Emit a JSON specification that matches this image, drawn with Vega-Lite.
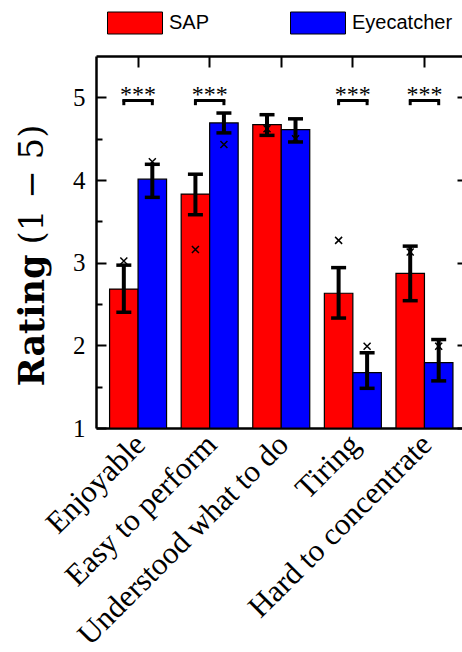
{
  "$schema": "https://vega.github.io/schema/vega-lite/v6.json",
  "width": 366,
  "height": 372,
  "autosize": {"type": "none"},
  "padding": {"left": 96, "top": 56, "right": 0, "bottom": 224},
  "background": "white",
  "config": {
    "view": {"stroke": null},
    "axis": {"grid": false, "domainColor": "black", "tickColor": "black", "labelColor": "black", "titleColor": "black"}
  },
  "datasets": {
    "ratings": [
      {"cat": "Enjoyable", "group": "SAP", "mean": 2.68, "lo": 2.40, "hi": 2.97, "marker": 3.02, "sig": "***"},
      {"cat": "Enjoyable", "group": "Eyecatcher", "mean": 4.01, "lo": 3.79, "hi": 4.19, "marker": 4.22, "sig": "***"},
      {"cat": "Easy to perform", "group": "SAP", "mean": 3.83, "lo": 3.58, "hi": 4.07, "marker": 3.16, "sig": "***"},
      {"cat": "Easy to perform", "group": "Eyecatcher", "mean": 4.69, "lo": 4.57, "hi": 4.81, "marker": 4.43, "sig": "***"},
      {"cat": "Understood what to do", "group": "SAP", "mean": 4.67, "lo": 4.54, "hi": 4.79, "marker": 4.62, "sig": ""},
      {"cat": "Understood what to do", "group": "Eyecatcher", "mean": 4.61, "lo": 4.46, "hi": 4.74, "marker": 4.50, "sig": ""},
      {"cat": "Tiring", "group": "SAP", "mean": 2.63, "lo": 2.33, "hi": 2.94, "marker": 3.27, "sig": "***"},
      {"cat": "Tiring", "group": "Eyecatcher", "mean": 1.67, "lo": 1.48, "hi": 1.91, "marker": 1.99, "sig": "***"},
      {"cat": "Hard to concentrate", "group": "SAP", "mean": 2.87, "lo": 2.54, "hi": 3.20, "marker": 3.13, "sig": "***"},
      {"cat": "Hard to concentrate", "group": "Eyecatcher", "mean": 1.79, "lo": 1.57, "hi": 2.07, "marker": 1.99, "sig": "***"}
    ]
  },
  "data": {"name": "ratings"},
  "resolve": {"axis": {"x": "independent", "y": "independent"}},
  "layer": [
    {
      "mark": {"type": "bar", "stroke": "black", "strokeWidth": 1.2, "opacity": 1},
      "encoding": {
        "x": {
          "field": "cat", "type": "nominal",
          "sort": ["Enjoyable", "Easy to perform", "Understood what to do", "Tiring", "Hard to concentrate"],
          "scale": {"paddingInner": 0.204, "paddingOuter": 0.158, "align": 0.6},
          "axis": {
            "orient": "bottom", "title": null, "labelAngle": 315, "labelLimit": 0,
            "labelFont": "Liberation Serif", "labelFontSize": 31,
            "tickSize": -11, "tickWidth": 2, "labelPadding": 12, "labelOffset": -8,
            "domain": true, "domainWidth": 2.5
          }
        },
        "xOffset": {"field": "group", "type": "nominal", "sort": ["SAP", "Eyecatcher"], "scale": {"paddingInner": 0, "paddingOuter": 0}},
        "y": {
          "field": "mean", "type": "quantitative",
          "scale": {"domain": [1, 5.5], "nice": false, "zero": false},
          "axis": {
            "orient": "left",
            "values": [1, 1.5, 2, 2.5, 3, 3.5, 4, 4.5, 5],
            "labelExpr": "datum.value % 1 === 0 ? format(datum.value, 'd') : ''",
            "tickSize": {"condition": {"test": "datum.value % 1 === 0", "value": -10}, "value": -6},
            "tickWidth": 2,
            "labelFont": "Liberation Serif", "labelFontSize": 25, "labelPadding": 21,
            "domain": true, "domainWidth": 2.5,
            "title": "Rating", "titleFont": "DejaVu Serif", "titleFontWeight": "bold", "titleFontSize": 35,
            "titleAngle": 270, "titleX": -64, "titleY": 264, "titleAlign": "center", "titleBaseline": "middle"
          }
        },
        "y2": {"datum": 1},
        "color": {
          "field": "group", "type": "nominal",
          "scale": {"domain": ["SAP", "Eyecatcher"], "range": ["#ff0000", "#0000ff"]},
          "legend": {
            "orient": "none", "legendX": 11, "legendY": -61, "direction": "horizontal", "title": null,
            "symbolType": "M-1,-0.4H1V0.4H-1Z", "symbolSize": 3025,
            "symbolStrokeColor": "black", "symbolStrokeWidth": 1, "symbolOpacity": 1,
            "labelFont": "Liberation Sans", "labelFontSize": 20, "labelOffset": 6, "labelColor": "black",
            "columnPadding": 78
          }
        }
      }
    },
    {
      "mark": {"type": "rule", "strokeWidth": 4, "color": "black"},
      "encoding": {
        "x": {"field": "cat", "type": "nominal", "sort": ["Enjoyable", "Easy to perform", "Understood what to do", "Tiring", "Hard to concentrate"], "axis": null},
        "xOffset": {"field": "group", "type": "nominal", "sort": ["SAP", "Eyecatcher"]},
        "y": {
          "field": "lo", "type": "quantitative",
          "axis": {
            "orient": "left", "labels": false, "ticks": false, "domain": false, "values": [],
            "title": "(1 − 5)", "titleFont": "DejaVu Serif", "titleFontWeight": "normal", "titleFontSize": 34,
            "titleAngle": 270, "titleX": -64, "titleY": 128, "titleAlign": "center", "titleBaseline": "middle"
          }
        },
        "y2": {"field": "hi"}
      }
    },
    {
      "mark": {"type": "tick", "thickness": 3.5, "size": 15, "color": "black", "opacity": 1},
      "encoding": {
        "x": {"field": "cat", "type": "nominal", "sort": ["Enjoyable", "Easy to perform", "Understood what to do", "Tiring", "Hard to concentrate"], "axis": null},
        "xOffset": {"field": "group", "type": "nominal", "sort": ["SAP", "Eyecatcher"]},
        "y": {"field": "lo", "type": "quantitative", "axis": null}
      }
    },
    {
      "mark": {"type": "tick", "thickness": 3.5, "size": 15, "color": "black", "opacity": 1},
      "encoding": {
        "x": {"field": "cat", "type": "nominal", "sort": ["Enjoyable", "Easy to perform", "Understood what to do", "Tiring", "Hard to concentrate"], "axis": null},
        "xOffset": {"field": "group", "type": "nominal", "sort": ["SAP", "Eyecatcher"]},
        "y": {"field": "hi", "type": "quantitative", "axis": null}
      }
    },
    {
      "mark": {"type": "point", "shape": "M-1,-1L1,1M-1,1L1,-1", "filled": false, "stroke": "black", "strokeWidth": 1.5, "size": 49, "opacity": 1},
      "encoding": {
        "x": {"field": "cat", "type": "nominal", "sort": ["Enjoyable", "Easy to perform", "Understood what to do", "Tiring", "Hard to concentrate"], "axis": null},
        "xOffset": {"field": "group", "type": "nominal", "sort": ["SAP", "Eyecatcher"]},
        "y": {
          "field": "marker", "type": "quantitative",
          "axis": {"orient": "right", "labels": false, "domain": false, "title": null, "values": [1, 2, 3, 4, 5], "tickSize": -5, "tickWidth": 2}
        }
      }
    },
    {
      "transform": [{"filter": "datum.sig == '***' && datum.group == 'SAP'"}],
      "mark": {"type": "tick", "thickness": 3, "size": 31, "color": "black", "opacity": 1},
      "encoding": {
        "x": {
          "field": "cat", "type": "nominal", "sort": ["Enjoyable", "Easy to perform", "Understood what to do", "Tiring", "Hard to concentrate"],
          "axis": {"orient": "top", "labels": false, "title": null, "tickSize": -11, "tickWidth": 2, "domain": true, "domainWidth": 2.5}
        },
        "y": {"datum": 4.962, "axis": null}
      }
    },
    {
      "transform": [{"filter": "datum.sig == '***'"}],
      "mark": {"type": "rule", "strokeWidth": 3, "color": "black"},
      "encoding": {
        "x": {"field": "cat", "type": "nominal", "sort": ["Enjoyable", "Easy to perform", "Understood what to do", "Tiring", "Hard to concentrate"], "axis": null},
        "xOffset": {"field": "group", "type": "nominal", "sort": ["SAP", "Eyecatcher"]},
        "y": {"datum": 4.975, "axis": null},
        "y2": {"datum": 4.905}
      }
    },
    {
      "transform": [{"filter": "datum.sig == '***' && datum.group == 'SAP'"}],
      "mark": {"type": "text", "font": "Liberation Serif", "fontSize": 24, "baseline": "alphabetic", "align": "center", "color": "black"},
      "encoding": {
        "x": {"field": "cat", "type": "nominal", "sort": ["Enjoyable", "Easy to perform", "Understood what to do", "Tiring", "Hard to concentrate"], "axis": null},
        "y": {"datum": 4.94, "axis": null},
        "text": {"field": "sig"}
      }
    }
  ]
}
